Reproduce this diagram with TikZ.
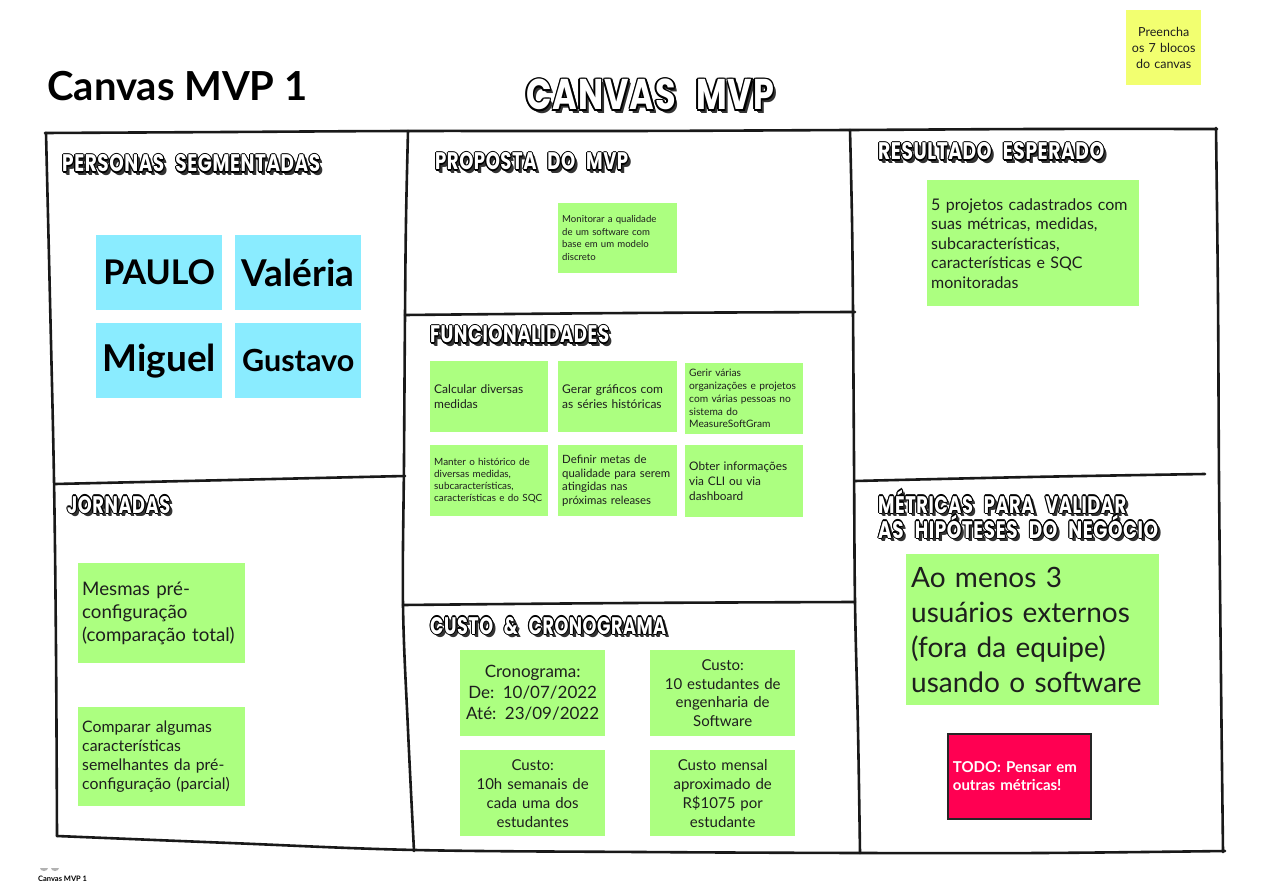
\documentclass[tikz,border=0pt]{standalone}
\usepackage{fontspec}
\usepackage{graphicx}
\setmainfont{Lato}
\newfontfamily\comicf{Poppins}[LetterSpace=3,WordSpace=2.5]
\definecolor{stkgreen}{RGB}{172,255,128}
\definecolor{stkcyan}{RGB}{138,236,255}
\definecolor{stkyellow}{RGB}{242,255,112}
\definecolor{stkred}{RGB}{255,0,82}
\definecolor{txt}{RGB}{30,30,30}
\newcommand\fs[2]{\fontsize{#1pt}{#2pt}\selectfont}
\newcommand\cmtext[3]{\resizebox{#2pt}{\height}{\comicf\bfseries\fontsize{#1pt}{#1pt}\selectfont #3}}
% name, x, y, font size, width, outline offset, text
\newcommand\comic[7]{%
  \foreach \dx/\dy in {1.6/1.6,2.4/2.4,3.1/3.1}{\node[cmx,text=black!80] at (#2+\dx,#3+\dy) {\cmtext{#4}{#5}{#7}};}
  \foreach \dx/\dy in {-1/0,1/0,0/-1,0/1,-0.7/-0.7,0.7/0.7,-0.7/0.7,0.7/-0.7}{\node[cmx,text=black] at (#2+#6*\dx,#3+#6*\dy) {\cmtext{#4}{#5}{#7}};}
  \node[cmx,text=white] (#1) at (#2,#3) {\cmtext{#4}{#5}{#7}};
}
\tikzset{
  frame/.style={line width=2.6pt, draw=black!90, line cap=round, line join=round},
  stk/.style={anchor=north west, inner sep=4pt, align=left, text=txt},
  cmx/.style={anchor=base west, inner sep=0pt},
}
\begin{document}
\begin{tikzpicture}[x=1pt,y=-1pt]
\useasboundingbox[fill=white] (0,0) rectangle (1266,882);

% title
\node[anchor=base west, inner sep=0pt, font=\bfseries\fs{40}{44}] (title) at (47,101) {Canvas MVP 1};
\comic{maintitle}{526}{110}{43}{248}{1.6}{CANVAS MVP}

% yellow note
\node[stk, fill=stkyellow, minimum width=75pt, minimum height=75pt, text width=67pt, align=center, font=\fs{12.5}{16}] (note) at (1126,10) {Preencha\\os 7 blocos\\do canvas};

% frame
\draw[frame] plot[smooth, tension=0.6] coordinates {(45,133) (230,132) (408,131) (630,131) (850,130) (1040,129) (1217,129)};
\draw[frame] plot[smooth, tension=0.6] coordinates {(46,133) (50,300) (54,480) (56,650) (57,836)};
\draw[frame] plot[smooth, tension=0.6] coordinates {(57,836) (230,843) (415,850) (640,852) (860,853) (1040,853) (1225,851)};
\draw[frame] plot[smooth, tension=0.6] coordinates {(1216,128) (1218,300) (1219,480) (1221,680) (1223,852)};
\draw[frame] plot[smooth, tension=0.6] coordinates {(408,131) (406,220) (405,315) (404,460) (403,605) (408,730) (414,851)};
\draw[frame] plot[smooth, tension=0.6] coordinates {(850,130) (852,220) (853,312) (854,460) (855,602) (858,730) (860,853)};
\draw[frame] plot[smooth, tension=0.6] coordinates {(55,484) (230,480) (405,476)};
\draw[frame] plot[smooth, tension=0.6] coordinates {(405,315) (630,313) (855,312)};
\draw[frame] plot[smooth, tension=0.6] coordinates {(403,605) (630,603) (855,602)};
\draw[frame] plot[smooth, tension=0.6] coordinates {(855,481) (1030,477) (1205,474)};

% headings
\comic{hpers}{62}{172}{24}{258}{1.1}{PERSONAS SEGMENTADAS}
\comic{hprop}{435}{170}{24}{193}{1.1}{PROPOSTA DO MVP}
\comic{hres}{878}{160}{24}{226}{1.1}{RESULTADO ESPERADO}
\comic{hfunc}{430}{343}{24}{179}{1.1}{FUNCIONALIDADES}
\comic{hjorn}{67}{513}{24}{103}{1.1}{JORNADAS}
\comic{hcust}{430}{634}{24}{236}{1.1}{CUSTO \& CRONOGRAMA}
\comic{hmet}{878}{513}{24}{248}{1.1}{MÉTRICAS PARA VALIDAR}
\comic{hhip}{878}{538}{24}{280}{1.1}{AS HIPÓTESES DO NEGÓCIO}

% personas
\node[stk, fill=stkcyan, minimum width=126pt, minimum height=75pt, text width=118pt, align=center, text=black, font=\bfseries\fs{34}{38}] (p1) at (96,235) {PAULO};
\node[stk, fill=stkcyan, minimum width=126pt, minimum height=75pt, text width=118pt, align=center, text=black, font=\bfseries\fs{37}{40}] (p2) at (235,235) {Valéria};
\node[stk, fill=stkcyan, minimum width=126pt, minimum height=75pt, text width=118pt, align=center, text=black, font=\bfseries\fs{37}{40}] (p3) at (96,323) {Miguel};
\node[stk, fill=stkcyan, minimum width=126pt, minimum height=75pt, text width=118pt, align=center, text=black, font=\bfseries\fs{30.5}{34}] (p4) at (235,323) {Gustavo};

% jornadas
\node[stk, fill=stkgreen, minimum width=167pt, minimum height=100pt, text width=159pt, font=\fs{18.7}{23}] (j1) at (78,563) {Mesmas pré-\\configuração\\(comparação total)};
\node[stk, fill=stkgreen, minimum width=167pt, minimum height=99pt, text width=159pt, font=\fs{15.8}{19}] (j2) at (78,707) {Comparar algumas\\características\\semelhantes da pré-\\configuração (parcial)};

% proposta
\node[stk, fill=stkgreen, minimum width=119pt, minimum height=70pt, text width=111pt, font=\fs{9.6}{12.5}] (m0) at (558,203) {Monitorar a qualidade\\de um software com\\base em um modelo\\discreto};

% funcionalidades
\node[stk, fill=stkgreen, minimum width=118pt, minimum height=71pt, text width=110pt, font=\fs{12}{14.5}] (f1) at (430,361) {Calcular diversas\\medidas};
\node[stk, fill=stkgreen, minimum width=119pt, minimum height=71pt, text width=111pt, font=\fs{12}{14.5}] (f2) at (558,361) {Gerar gráficos com\\as séries históricas};
\node[stk, fill=stkgreen, minimum width=118pt, minimum height=71pt, text width=110pt, font=\fs{10.2}{12.8}] (f3) at (685,363) {Gerir várias\\organizações e projetos\\com várias pessoas no\\sistema do\\MeasureSoftGram};
\node[stk, fill=stkgreen, minimum width=118pt, minimum height=71pt, text width=110pt, font=\fs{9.9}{12}] (f4) at (430,445) {Manter o histórico de\\diversas medidas,\\subcaracterísticas,\\características e do SQC};
\node[stk, fill=stkgreen, minimum width=119pt, minimum height=71pt, text width=111pt, font=\fs{11.4}{13.8}] (f5) at (558,445) {Definir metas de\\qualidade para serem\\atingidas nas\\próximas releases};
\node[stk, fill=stkgreen, minimum width=118pt, minimum height=72pt, text width=110pt, font=\fs{11.8}{14.5}] (f6) at (685,445) {Obter informações\\via CLI ou via\\dashboard};

% custo
\node[stk, fill=stkgreen, minimum width=145pt, minimum height=86pt, text width=137pt, align=center, font=\fs{17}{21}] (c1) at (460,650) {Cronograma:\\De: 10/07/2022\\Até: 23/09/2022};
\node[stk, fill=stkgreen, minimum width=145pt, minimum height=86pt, text width=137pt, align=center, font=\fs{15}{18.7}] (c2) at (650,650) {Custo:\\10 estudantes de\\engenharia de\\Software};
\node[stk, fill=stkgreen, minimum width=145pt, minimum height=86pt, text width=137pt, align=center, font=\fs{15}{19}] (c3) at (460,750) {Custo:\\10h semanais de\\cada uma dos\\estudantes};
\node[stk, fill=stkgreen, minimum width=145pt, minimum height=86pt, text width=137pt, align=center, font=\fs{15}{19}] (c4) at (650,750) {Custo mensal\\aproximado de\\R\$1075 por\\estudante};

% resultado
\node[stk, fill=stkgreen, minimum width=212pt, minimum height=126pt, text width=204pt, font=\fs{16}{19.5}] (r1) at (927,180) {5 projetos cadastrados com\\suas métricas, medidas,\\subcaracterísticas,\\características e SQC\\monitoradas};

% metricas
\node[stk, fill=stkgreen, minimum width=253pt, minimum height=151pt, text width=243pt, inner sep=5pt, font=\fs{28}{35}] (h1) at (906,554) {Ao menos 3\\usuários externos\\(fora da equipe)\\usando o software};
\node[stk, fill=stkred, draw=black!85, line width=1.8pt, minimum width=143pt, minimum height=85pt, text width=133pt, inner sep=5pt, text=white, font=\bfseries\fs{15}{18}] (h2) at (947,733) {TODO: Pensar em\\outras métricas!};

% footer
\fill[black!30] (40,868) arc[start angle=180, end angle=0, x radius=4, y radius=3] -- cycle;
\fill[black!30] (51,868) arc[start angle=180, end angle=0, x radius=4, y radius=3] -- cycle;
\node[anchor=base west, inner sep=0pt, font=\bfseries\fs{7.5}{8}] (foot) at (38,881) {Canvas MVP 1};
\end{tikzpicture}
\end{document}
